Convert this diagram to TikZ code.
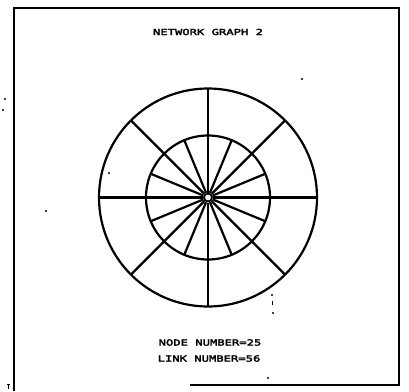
\documentclass[tikz,border=0pt]{standalone}
\usepackage{fontspec}
\newfontfamily\plotfont[FakeStretch=1.45,FakeBold=3]{DejaVu Sans Mono}
\begin{document}
\begin{tikzpicture}[x=1pt,y=-1pt,
  edge/.style={line width=2.2pt},
  frame/.style={line width=2.2pt},
  label/.style={font=\plotfont\fontsize{8.4}{10}\selectfont, inner sep=0pt, anchor=center},
  hub/.style={circle, draw, line width=1.8pt, minimum size=8pt, inner sep=0pt, outer sep=1pt},
  speck/.style={fill=black}]
\useasboundingbox (0,0) rectangle (409,391);
\fill[white] (0,0) rectangle (409,391);
% frame
\draw[frame] (14,391) -- (14,8) -- (399,8) -- (399,385) -- (190,385);
% title and counts
\node[label] (title) at (208,32) {NETWORK GRAPH 2};
\node[label] (nodes) at (210,342.5) {NODE NUMBER=25};
\node[label] (links) at (209,358.5) {LINK NUMBER=56};
% graph
\node[hub] (c) at (208,197.5) {};
\foreach \k in {0,...,15} {
  \path (c.center) ++(\k*22.5:62) coordinate (i\k);
}
\foreach \k in {0,...,7} {
  \path (c.center) ++(\k*45:109) coordinate (o\k);
}
\draw[edge] (c.center) circle (62);
\draw[edge] (c.center) circle (109);
\foreach \k in {0,...,15} { \draw[edge] (c) -- (i\k); }
\foreach \k [evaluate=\k as \j using int(2*\k)] in {0,...,7} { \draw[edge] (i\j) -- (o\k); }
% scan specks
\foreach \p in {(5,99),(3,110),(109,173),(46,211),(302,79),(272,295),(273,313),(268,378)} {
  \fill[speck] \p circle (1.2);
}
\draw[line width=1pt] (272.5,301) -- (272.5,305);
\draw[line width=1pt] (7,384) -- (10,384) (8.5,384) -- (8.5,389);
\end{tikzpicture}
\end{document}
